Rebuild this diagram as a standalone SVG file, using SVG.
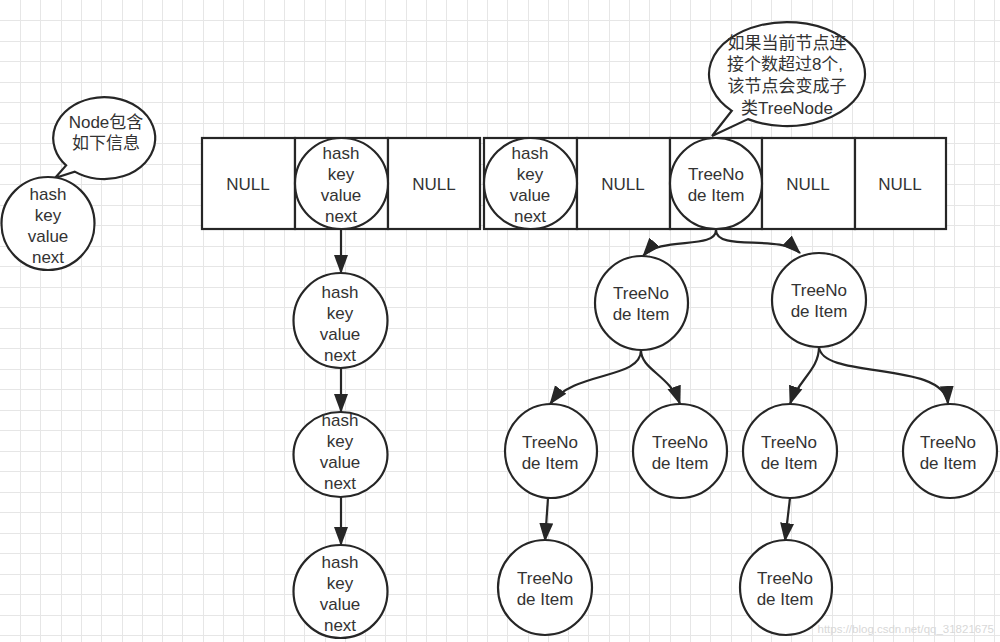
<svg xmlns="http://www.w3.org/2000/svg" width="1000" height="642" viewBox="0 0 1000 642">
<style>
.t{font-family:"Liberation Sans","Noto Sans CJK SC",sans-serif;font-size:17px;fill:#333;text-anchor:middle}
.s{fill:#fff;stroke:#262626;stroke-width:2.2}
.e{fill:none;stroke:#262626;stroke-width:2.2;marker-end:url(#ah)}
.g{fill:none;stroke:#e6e6e6;stroke-width:1}
.wm{font-family:"Liberation Sans",sans-serif;font-size:11.5px;fill:#d8d8d8;text-anchor:end}
</style>
<defs>
<marker id="ah" markerUnits="userSpaceOnUse" markerWidth="20" markerHeight="16" refX="18" refY="7" orient="auto" viewBox="0 0 20 14">
<path d="M0,0 L19,7 L0,14 Z" fill="#262626"/>
</marker>
</defs>
<rect width="1000" height="642" fill="#fff"/>
<g id="grid">
<path class="g" d="M20.5,0V642M40.5,0V642M61.5,0V642M81.5,0V642M101.5,0V642M122.5,0V642M142.5,0V642M162.5,0V642M182.5,0V642M203.5,0V642M223.5,0V642M243.5,0V642M264.5,0V642M284.5,0V642M304.5,0V642M325.5,0V642M345.5,0V642M365.5,0V642M385.5,0V642M406.5,0V642M426.5,0V642M446.5,0V642M467.5,0V642M487.5,0V642M507.5,0V642M528.5,0V642M548.5,0V642M568.5,0V642M588.5,0V642M609.5,0V642M629.5,0V642M649.5,0V642M670.5,0V642M690.5,0V642M710.5,0V642M731.5,0V642M751.5,0V642M771.5,0V642M791.5,0V642M812.5,0V642M832.5,0V642M852.5,0V642M873.5,0V642M893.5,0V642M913.5,0V642M934.5,0V642M954.5,0V642M974.5,0V642M994.5,0V642"/>
<path class="g" d="M0,20.5H1000M0,41.5H1000M0,61.5H1000M0,82.5H1000M0,102.5H1000M0,123.5H1000M0,143.5H1000M0,164.5H1000M0,184.5H1000M0,205.5H1000M0,225.5H1000M0,246.5H1000M0,266.5H1000M0,287.5H1000M0,307.5H1000M0,328.5H1000M0,348.5H1000M0,369.5H1000M0,389.5H1000M0,410.5H1000M0,430.5H1000M0,451.5H1000M0,471.5H1000M0,492.5H1000M0,512.5H1000M0,533.5H1000M0,553.5H1000M0,574.5H1000M0,594.5H1000M0,615.5H1000M0,635.5H1000"/>
</g>

<g id="connectors">
<path class="e" d="M341,230 L341,273"/>
<path class="e" d="M341,368 L341,412"/>
<path class="e" d="M341,497 L341,545"/>
<path class="e" d="M716,230 C716,250 660,236 643,256"/>
<path class="e" d="M716,230 C716,252 780,234 800,253"/>
<path class="e" d="M641,350 C641,380 575,370 550,404"/>
<path class="e" d="M641,350 C641,370 670,375 680,404"/>
<path class="e" d="M819,347 C819,370 798,380 790,404"/>
<path class="e" d="M819,347 C822,380 945,360 948,404"/>
<path class="e" d="M548,498 L545,541"/>
<path class="e" d="M790,498 L785,541"/>
</g>

<g id="callout-node">
<path class="s" d="M74.7,171.6 A51,41 0 1 0 66.1,165.4 L55,178 Z"/>
<text class="t" x="106" y="128">Node包含</text>
<text class="t" x="106" y="149">如下信息</text>
</g>

<g id="callout-tree">
<path class="s" d="M748,119.1 A78,52 0 1 0 731.8,110.8 L712,136 Z"/>
<text class="t" x="787" y="49">如果当前节点连</text>
<text class="t" x="785" y="70">接个数超过8个,</text>
<text class="t" x="787" y="92">该节点会变成子</text>
<text class="t" x="787" y="114">类TreeNode</text>
</g>

<g id="legend-node">
<ellipse class="s" cx="48" cy="223.5" rx="46.5" ry="46.5"/>
<text class="t" x="48" y="200">hash</text>
<text class="t" x="48" y="221">key</text>
<text class="t" x="48" y="242">value</text>
<text class="t" x="48" y="263">next</text>
</g>

<g id="array-1">
<rect class="s" x="202" y="138" width="93" height="91"/>
<rect class="s" x="295" y="138" width="93" height="91"/>
<rect class="s" x="388" y="138" width="92" height="91"/>
<text class="t" x="248" y="190">NULL</text>
<text class="t" x="434" y="190">NULL</text>
</g>

<g id="bucket-1-node">
<ellipse class="s" cx="341.5" cy="183.5" rx="46.5" ry="45.5"/>
<text class="t" x="341" y="159">hash</text>
<text class="t" x="341" y="180">key</text>
<text class="t" x="341" y="201">value</text>
<text class="t" x="341" y="222">next</text>
</g>

<g id="array-2">
<rect class="s" x="484" y="138" width="93" height="91"/>
<rect class="s" x="577" y="138" width="93" height="91"/>
<rect class="s" x="670" y="138" width="92" height="91"/>
<rect class="s" x="762" y="138" width="93" height="91"/>
<rect class="s" x="855" y="138" width="91" height="91"/>
<text class="t" x="623" y="190">NULL</text>
<text class="t" x="808" y="190">NULL</text>
<text class="t" x="900" y="190">NULL</text>
</g>

<g id="bucket-4-node">
<ellipse class="s" cx="530.5" cy="183.5" rx="46.5" ry="45.5"/>
<text class="t" x="530" y="159">hash</text>
<text class="t" x="530" y="180">key</text>
<text class="t" x="530" y="201">value</text>
<text class="t" x="530" y="222">next</text>
</g>

<g id="tree-root">
<ellipse class="s" cx="716" cy="183.5" rx="46" ry="45.5"/>
<text class="t" x="716" y="180">TreeNo</text>
<text class="t" x="716" y="201">de Item</text>
</g>

<g id="chain-2">
<ellipse class="s" cx="340.5" cy="320.5" rx="47" ry="47.5"/>
<text class="t" x="340" y="298">hash</text>
<text class="t" x="340" y="319">key</text>
<text class="t" x="340" y="340">value</text>
<text class="t" x="340" y="361">next</text>
</g>

<g id="chain-3">
<ellipse class="s" cx="340.5" cy="454.5" rx="47" ry="42.5"/>
<text class="t" x="340" y="426">hash</text>
<text class="t" x="340" y="447">key</text>
<text class="t" x="340" y="468">value</text>
<text class="t" x="340" y="489">next</text>
</g>

<g id="chain-4">
<ellipse class="s" cx="340.5" cy="591.5" rx="47" ry="46.5"/>
<text class="t" x="340" y="568">hash</text>
<text class="t" x="340" y="589">key</text>
<text class="t" x="340" y="610">value</text>
<text class="t" x="340" y="631">next</text>
</g>

<g id="tree-l1">
<ellipse class="s" cx="641.5" cy="303" rx="46.5" ry="47"/>
<text class="t" x="641" y="299">TreeNo</text>
<text class="t" x="641" y="320">de Item</text>
</g>

<g id="tree-r1">
<ellipse class="s" cx="819" cy="300" rx="47" ry="47"/>
<text class="t" x="819" y="296">TreeNo</text>
<text class="t" x="819" y="317">de Item</text>
</g>

<g id="tree-ll">
<ellipse class="s" cx="551" cy="451" rx="46" ry="47"/>
<text class="t" x="550" y="448">TreeNo</text>
<text class="t" x="550" y="469">de Item</text>
</g>

<g id="tree-lr">
<ellipse class="s" cx="680" cy="451" rx="47" ry="47"/>
<text class="t" x="680" y="448">TreeNo</text>
<text class="t" x="680" y="469">de Item</text>
</g>

<g id="tree-rl">
<ellipse class="s" cx="790" cy="451" rx="47" ry="47"/>
<text class="t" x="789" y="448">TreeNo</text>
<text class="t" x="789" y="469">de Item</text>
</g>

<g id="tree-rr">
<ellipse class="s" cx="950" cy="451" rx="47" ry="47"/>
<text class="t" x="948" y="448">TreeNo</text>
<text class="t" x="948" y="469">de Item</text>
</g>

<g id="tree-lll">
<ellipse class="s" cx="545" cy="587.5" rx="47" ry="47.5"/>
<text class="t" x="545" y="584">TreeNo</text>
<text class="t" x="545" y="605">de Item</text>
</g>

<g id="tree-rll">
<ellipse class="s" cx="786" cy="587.5" rx="46" ry="47.5"/>
<text class="t" x="785" y="584">TreeNo</text>
<text class="t" x="785" y="605">de Item</text>
</g>

<text class="wm" x="994" y="633">https://blog.csdn.net/qq_31821675</text>
</svg>
